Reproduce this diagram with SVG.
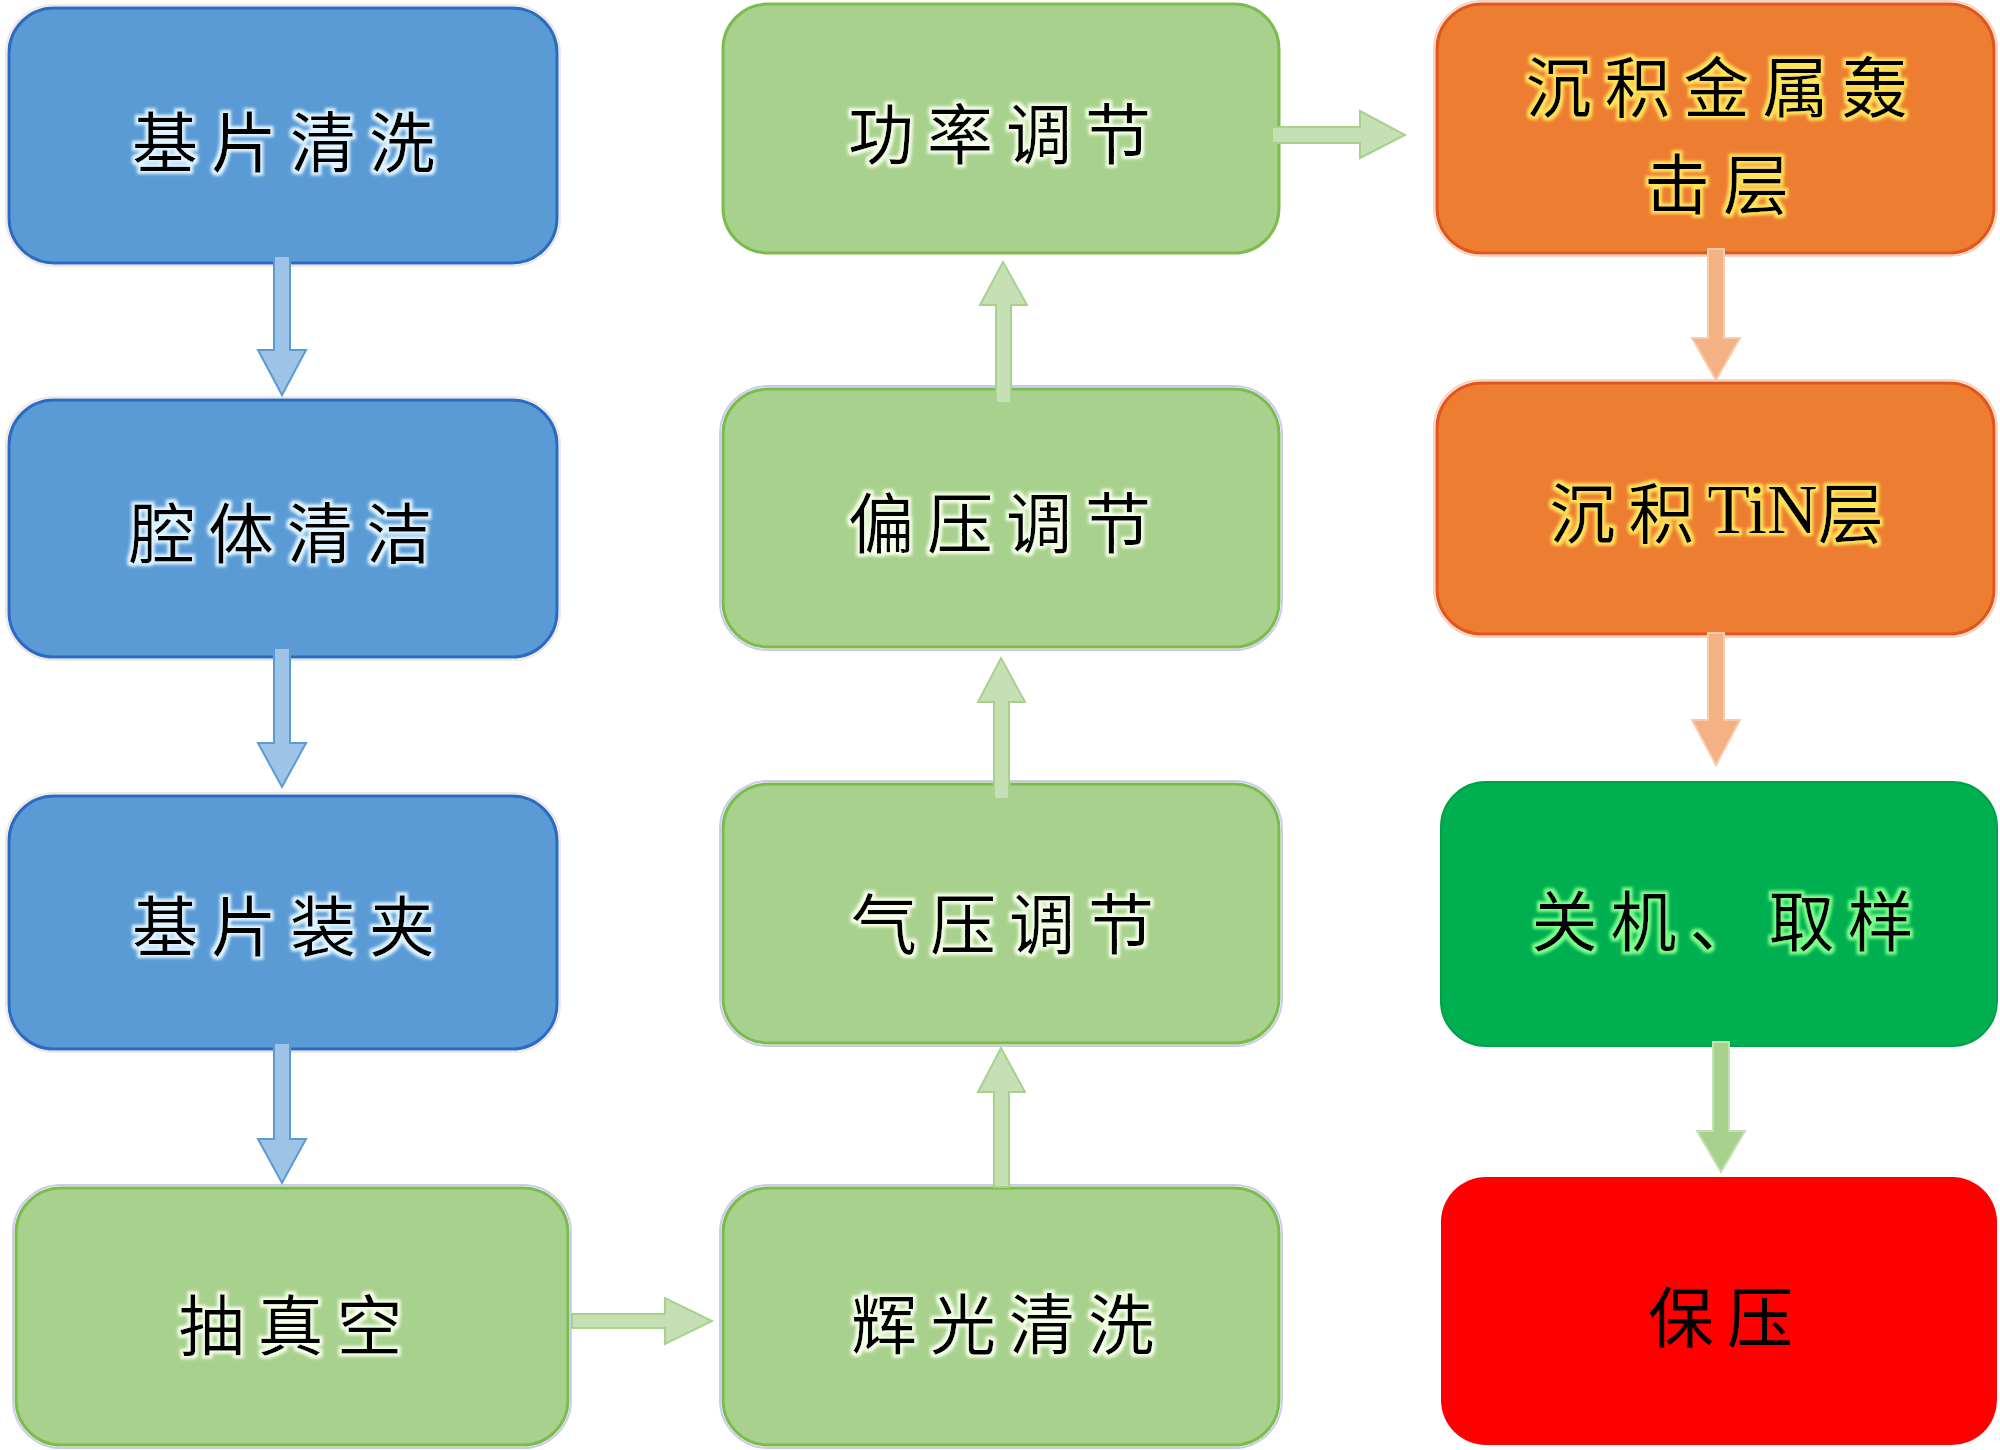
<svg xmlns="http://www.w3.org/2000/svg" width="2000" height="1450" viewBox="0 0 2000 1450">
<defs>
<style>
.lbl{font-family:"Noto Sans CJK SC","Noto Sans",sans-serif;font-size:66px;letter-spacing:13px;fill:#000;text-anchor:middle;dominant-baseline:central}
.lat{font-family:"Liberation Serif",serif;font-size:70px;letter-spacing:0px}
.blue{fill:#5b9bd5;stroke:#2a6bc3;stroke-width:3}
.blueo{fill:none;stroke:#f3e6e0;stroke-width:2}
.green{fill:#a9d18e;stroke:#7cbc4c;stroke-width:3}
.greeno{fill:none;stroke:#cbcbf0;stroke-width:2}
.orange{fill:#ed7d31;stroke:#e0561c;stroke-width:3}
.orangeo{fill:none;stroke:#f6d3c0;stroke-width:2}
.dgreen{fill:#00b050;stroke:#00a048;stroke-width:2}
.red{fill:#ff0000}
.abl{fill:#9dc3e6;stroke:#5b9bd5;stroke-width:2}
.agr{fill:#c5e0b4;stroke:#a9d18e;stroke-width:2}
.aor{fill:#f4b183;stroke:#f8cbad;stroke-width:2}
.agr2{fill:#a9d18e;stroke:#c5e0b4;stroke-width:2}
</style>
<filter id="glowB" x="-10%" y="-20%" width="120%" height="140%">
<feMorphology in="SourceAlpha" operator="dilate" radius="2.5" result="d"/>
<feGaussianBlur in="d" stdDeviation="1.5" result="b"/>
<feFlood flood-color="#dff4ff"/>
<feComposite in2="b" operator="in" result="g"/>
<feMerge><feMergeNode in="g"/><feMergeNode in="SourceGraphic"/></feMerge>
</filter>
<filter id="glowG" x="-10%" y="-20%" width="120%" height="140%">
<feMorphology in="SourceAlpha" operator="dilate" radius="2.5" result="d"/>
<feGaussianBlur in="d" stdDeviation="1.5" result="b"/>
<feFlood flood-color="#f4ffe8"/>
<feComposite in2="b" operator="in" result="g"/>
<feMerge><feMergeNode in="g"/><feMergeNode in="SourceGraphic"/></feMerge>
</filter>
<filter id="glowO" x="-10%" y="-20%" width="120%" height="140%">
<feMorphology in="SourceAlpha" operator="dilate" radius="2.5" result="d"/>
<feGaussianBlur in="d" stdDeviation="1.5" result="b"/>
<feFlood flood-color="#ffe45a"/>
<feComposite in2="b" operator="in" result="g"/>
<feMerge><feMergeNode in="g"/><feMergeNode in="SourceGraphic"/></feMerge>
</filter>
<filter id="glowD" x="-10%" y="-20%" width="120%" height="140%">
<feMorphology in="SourceAlpha" operator="dilate" radius="2.5" result="d"/>
<feGaussianBlur in="d" stdDeviation="1.5" result="b"/>
<feFlood flood-color="#7dff8a"/>
<feComposite in2="b" operator="in" result="g"/>
<feMerge><feMergeNode in="g"/><feMergeNode in="SourceGraphic"/></feMerge>
</filter>
</defs>
<rect width="2000" height="1450" fill="#fff"/>

<g id="n1">
<rect class="blueo" x="6" y="5" width="554" height="261" rx="48"/>
<rect class="blue" x="9" y="8" width="548" height="255" rx="45"/>
<text class="lbl" x="290" y="138" filter="url(#glowB)">基片清洗</text>
</g>
<g id="n2">
<rect class="blueo" x="6" y="397" width="554" height="263" rx="48"/>
<rect class="blue" x="9" y="400" width="548" height="257" rx="45"/>
<text class="lbl" x="287" y="529" filter="url(#glowB)">腔体清洁</text>
</g>
<g id="n3">
<rect class="blueo" x="6" y="793" width="554" height="259" rx="48"/>
<rect class="blue" x="9" y="796" width="548" height="253" rx="45"/>
<text class="lbl" x="290" y="922" filter="url(#glowB)">基片装夹</text>
</g>
<g id="n4">
<rect class="greeno" x="13" y="1185" width="558" height="263" rx="48"/>
<rect class="green" x="16" y="1188" width="552" height="257" rx="45"/>
<text class="lbl" x="297" y="1321" filter="url(#glowG)">抽真空</text>
</g>
<g id="n5">
<rect class="greeno" x="720" y="1185" width="562" height="263" rx="48"/>
<rect class="green" x="723" y="1188" width="556" height="257" rx="45"/>
<text class="lbl" x="1009" y="1320" filter="url(#glowG)">辉光清洗</text>
</g>
<g id="n6">
<rect class="greeno" x="720" y="781" width="562" height="265" rx="48"/>
<rect class="green" x="723" y="784" width="556" height="259" rx="45"/>
<text class="lbl" x="1009" y="920" filter="url(#glowG)">气压调节</text>
</g>
<g id="n7">
<rect class="greeno" x="720" y="386" width="562" height="264" rx="48"/>
<rect class="green" x="723" y="389" width="556" height="258" rx="45"/>
<text class="lbl" x="1006" y="519" filter="url(#glowG)">偏压调节</text>
</g>
<g id="n8">
<rect class="green" x="723" y="4" width="556" height="249" rx="45"/>
<text class="lbl" x="1006" y="130" filter="url(#glowG)">功率调节</text>
</g>
<g id="n9">
<rect class="orangeo" x="1434" y="1" width="563" height="255" rx="48"/>
<rect class="orange" x="1437" y="4" width="557" height="249" rx="45"/>
<text class="lbl" x="1723" y="83" filter="url(#glowO)">沉积金属轰</text>
<text class="lbl" x="1723" y="180" filter="url(#glowO)">击层</text>
</g>
<g id="n10">
<rect class="orangeo" x="1434" y="380" width="563" height="257" rx="48"/>
<rect class="orange" x="1437" y="383" width="557" height="251" rx="45"/>
<text class="lbl" x="1723" y="509" filter="url(#glowO)">沉积<tspan class="lat">TiN</tspan>层</text>
</g>
<g id="n11">
<rect class="dgreen" x="1441" y="782" width="556" height="264" rx="45"/>
<text class="lbl" x="1729" y="917" filter="url(#glowD)">关机、取样</text>
</g>
<g id="n12">
<rect class="red" x="1441" y="1177" width="556" height="268" rx="45"/>
<text class="lbl" x="1727" y="1313">保压</text>
</g>

<g id="connectors">
<polygon class="abl" points="274,256 290,256 290,350 306,350 282,395 258,350 274,350"/>
<polygon class="abl" points="274,648 290,648 290,743 306,743 282,787 258,743 274,743"/>
<polygon class="abl" points="274,1043 290,1043 290,1139 306,1139 282,1183 258,1139 274,1139"/>
<polygon class="agr" points="572,1314 665,1314 665,1298 712,1321 665,1344 665,1328 572,1328"/>
<polygon class="agr" points="994,1187 994,1092 978,1092 1001,1048 1025,1092 1009,1092 1009,1187"/>
<polygon class="agr" points="994,799 994,702 978,702 1001,658 1025,702 1009,702 1009,799"/>
<polygon class="agr" points="996,403 996,305 980,305 1003,262 1027,305 1011,305 1011,403"/>
<polygon class="agr" points="1272,127 1360,127 1360,111 1405,135 1360,158 1360,143 1272,143"/>
<polygon class="aor" points="1708,249 1724,249 1724,338 1740,338 1716,380 1692,338 1708,338"/>
<polygon class="aor" points="1708,633 1724,633 1724,720 1740,720 1716,765 1692,720 1708,720"/>
<polygon class="agr2" points="1713,1042 1729,1042 1729,1131 1745,1131 1721,1172 1697,1131 1713,1131"/>
</g>
</svg>
